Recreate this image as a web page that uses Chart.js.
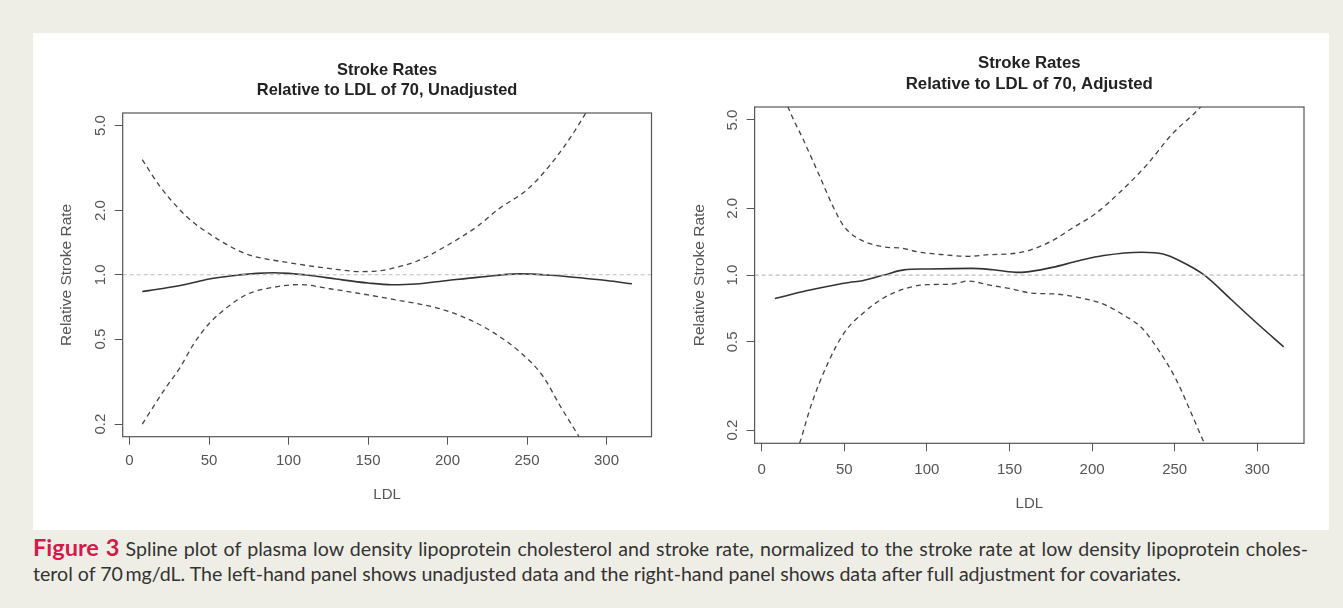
<!DOCTYPE html>
<html lang="en">
<head>
  <meta charset="UTF-8">
  <title>Stroke Rates Relative to LDL of 70</title>
  <script src="https://cdn.jsdelivr.net/npm/chart.js"></script>
  <style>
    body { margin: 0; background: #efeee6; width: 1343px; height: 608px; position: relative; overflow: hidden; }
    #panel { position: absolute; left: 33px; top: 33px; width: 1296px; height: 497px; background: #fff; }
    canvas { position: absolute; }
    #leftChart { left: 33px; top: 33px; }
    #rightChart { left: 680px; top: 33px; }
    .cap { position: absolute; left: 33px; font-family: Lato, "Open Sans", sans-serif; color: #333; white-space: nowrap; line-height: 27px; font-size: 18.5px; transform-origin: 0 0; }
    #cap1 { top: 534px; text-align: justify; text-align-last: justify; }
    #cap2 { top: 561px; }
    .fig { color: #d11a4b; font-weight: bold; font-size: 1.2em; }
  </style>
</head>
<body>
  <div id="panel"></div>
  <canvas id="leftChart" width="647" height="497"></canvas>
  <canvas id="rightChart" width="649" height="497"></canvas>
  <div id="cap1" class="cap"><span class="fig">Figure 3</span> Spline plot of plasma low density lipoprotein cholesterol and stroke rate, normalized to the stroke rate at low density lipoprotein choles-</div>
  <div id="cap2" class="cap"><span id="cap2text">terol of 70&thinsp;mg/dL. The left-hand panel shows unadjusted data and the right-hand panel shows data after full adjustment for covariates.</span></div>

  <script>
    // axis ticks
    const xTicks = [0, 50, 100, 150, 200, 250, 300];
    const yTicks = [0.2, 0.5, 1, 2, 5];
    const yTickLabels = ['0.2', '0.5', '1.0', '2.0', '5.0'];

    // left panel: unadjusted
    const fitLdlL = [8, 20, 35, 50, 65, 80, 90, 100, 115, 130, 150, 165, 180, 200, 220, 245, 265, 285, 300, 316];
    const fitL = [0.835, 0.86, 0.9, 0.955, 0.99, 1.015, 1.022, 1.015, 0.99, 0.955, 0.915, 0.898, 0.905, 0.94, 0.975, 1.01, 0.995, 0.965, 0.94, 0.907];
    const upLdlL = [8, 19, 32, 40, 50, 63, 75, 100, 130, 145, 155, 165, 181, 200, 219, 232, 250, 262, 273, 284, 288];
    const upL = [3.46, 2.6, 2.0, 1.76, 1.56, 1.36, 1.24, 1.14, 1.06, 1.035, 1.04, 1.07, 1.16, 1.375, 1.69, 2.03, 2.5, 3.1, 3.95, 5.25, 5.9];
    const loLdlL = [8, 22, 32, 40, 50, 61, 74, 93, 107, 126, 150, 170, 192, 208, 227, 246, 260, 271, 282, 284];
    const loL = [0.2, 0.29, 0.37, 0.47, 0.59, 0.7, 0.81, 0.88, 0.9, 0.86, 0.805, 0.757, 0.704, 0.643, 0.547, 0.432, 0.335, 0.242, 0.178, 0.168];

    // right panel: adjusted
    const fitLdlR = [8, 27, 45, 53, 61, 74, 86, 100, 127, 140, 156, 163, 176, 192, 207, 230, 243, 253, 268, 284, 300, 316];
    const fitR = [0.784, 0.849, 0.905, 0.926, 0.943, 1.0, 1.055, 1.065, 1.072, 1.057, 1.028, 1.039, 1.083, 1.16, 1.224, 1.267, 1.245, 1.161, 1.0, 0.778, 0.605, 0.475];
    const upLdlR = [14, 16, 25, 35, 43, 50, 60, 74, 85, 95, 110, 125, 138, 150, 163, 176, 189, 202, 217, 233, 248, 266, 268];
    const upR = [6.3, 5.7, 4.1, 2.8, 2.05, 1.65, 1.44, 1.34, 1.32, 1.27, 1.235, 1.215, 1.236, 1.245, 1.3, 1.43, 1.645, 1.89, 2.37, 3.13, 4.28, 5.75, 6.0];
    const loLdlR = [21, 23, 30, 40, 50, 62, 74, 86, 100, 115, 125, 138, 150, 163, 179, 192, 207, 220, 230, 240, 251, 261, 268, 270];
    const loR = [0.16, 0.175, 0.26, 0.4, 0.55, 0.68, 0.79, 0.865, 0.905, 0.91, 0.94, 0.9, 0.87, 0.83, 0.82, 0.792, 0.739, 0.654, 0.579, 0.462, 0.337, 0.23, 0.175, 0.165];

    const xMin = -4.3, xMax = 328.3;
    const yMin = 0.1745, yMax = 5.72;

    Chart.defaults.font.family = '"Liberation Sans", Arial, sans-serif';
    Chart.defaults.devicePixelRatio = 1;

    function pts(xs, ys) {
      return xs.map((x, i) => ({ x: x, y: ys[i] }));
    }

    // box around the plot and rotated y tick labels, R style
    const rAxisPlugin = {
      id: 'rAxis',
      afterDraw(chart) {
        const { ctx, chartArea: a, scales } = chart;
        ctx.save();
        ctx.strokeStyle = '#555';
        ctx.lineWidth = 1.2;
        ctx.strokeRect(a.left, a.top, a.right - a.left, a.bottom - a.top);
        ctx.fillStyle = '#555';
        ctx.font = '15px "Liberation Sans", Arial, sans-serif';
        ctx.textAlign = 'center';
        ctx.textBaseline = 'middle';
        yTicks.forEach((v, i) => {
          const y = scales.y.getPixelForValue(v);
          ctx.save();
          ctx.translate(a.left - 22, y);
          ctx.rotate(-Math.PI / 2);
          ctx.fillText(yTickLabels[i], 0, 0);
          ctx.restore();
        });
        ctx.restore();
      }
    };

    function makeChart(id, fit, up, lo, title, lay) {
      const dashed = { borderColor: '#444', borderWidth: 1.3, borderDash: [5, 4], pointRadius: 0, cubicInterpolationMode: 'monotone' };
      return new Chart(document.getElementById(id), {
        type: 'line',
        data: {
          datasets: [
            { data: pts([xMin, xMax], [1, 1]), borderColor: '#bdbdbd', borderWidth: 1.2, borderDash: [4, 3], pointRadius: 0 },
            Object.assign({ data: up }, dashed),
            Object.assign({ data: lo }, dashed),
            { data: fit, borderColor: '#333', borderWidth: 1.6, pointRadius: 0, cubicInterpolationMode: 'monotone' }
          ]
        },
        options: {
          responsive: false,
          animation: false,
          events: [],
          layout: { padding: { left: 0, right: lay.padRight, top: 0, bottom: 0 } },
          plugins: {
            legend: { display: false },
            tooltip: { enabled: false },
            title: {
              display: true,
              text: ['Stroke Rates', title],
              fullSize: false,
              color: '#222',
              font: { size: lay.titleSize, weight: 'bold', lineHeight: 1.25 },
              padding: { top: lay.titleTop, bottom: lay.titleBottom }
            }
          },
          scales: {
            x: {
              type: 'linear',
              min: xMin,
              max: xMax,
              afterBuildTicks: s => { s.ticks = xTicks.map(v => ({ value: v })); },
              afterFit: s => { s.height = lay.xHeight; },
              grid: { drawOnChartArea: false, drawTicks: true, tickLength: 8, color: '#555' },
              border: { display: false },
              ticks: { color: '#555', font: { size: 15 }, padding: lay.tickPad, maxRotation: 0 },
              title: { display: true, text: 'LDL', color: '#555', font: { size: 15 }, padding: { bottom: lay.ldlPad } }
            },
            y: {
              type: 'logarithmic',
              min: yMin,
              max: yMax,
              afterBuildTicks: s => { s.ticks = yTicks.map(v => ({ value: v })); },
              afterFit: s => { s.width = lay.yWidth; },
              grid: { drawOnChartArea: false, drawTicks: true, tickLength: 8, color: '#555' },
              border: { display: false },
              ticks: { display: false },
              title: { display: true, text: 'Relative Stroke Rate', color: '#555', font: { size: 15.5 }, padding: { top: lay.ylabPad } }
            }
          }
        },
        plugins: [rAxisPlugin]
      });
    }

    makeChart('leftChart', pts(fitLdlL, fitL), pts(upLdlL, upL), pts(loLdlL, loL),
      'Relative to LDL of 70, Unadjusted',
      { padRight: 28.5, xHeight: 93.3, yWidth: 89.7, titleSize: 16.4, titleTop: 27, titleBottom: 12, tickPad: 7.5, ldlPad: 26.6, ylabPad: 24.5 });

    makeChart('rightChart', pts(fitLdlR, fitR), pts(upLdlR, upR), pts(loLdlR, loR),
      'Relative to LDL of 70, Adjusted',
      { padRight: 25, xHeight: 86.7, yWidth: 74.6, titleSize: 16.8, titleTop: 20.3, titleBottom: 11.7, tickPad: 9.5, ldlPad: 17.6, ylabPad: 10 });

    // squeeze the caption horizontally so the second line ends where it does in the figure
    const w = document.getElementById('cap2text').getBoundingClientRect().width;
    const sx = 1148 / w;
    const cap1 = document.getElementById('cap1');
    const cap2 = document.getElementById('cap2');
    cap1.style.width = (1275 / sx) + 'px';
    cap1.style.transform = 'scaleX(' + sx + ')';
    cap2.style.transform = 'scaleX(' + sx + ')';
  </script>
</body>
</html>
